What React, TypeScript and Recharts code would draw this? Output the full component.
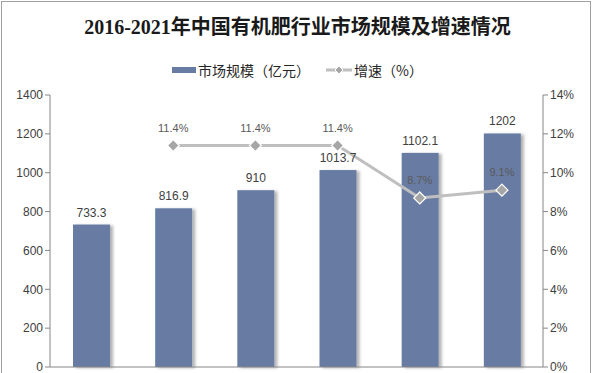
import { ComposedChart, Bar, Line, XAxis, YAxis, LabelList } from 'recharts';

const years = ['2016年', '2017年', '2018年', '2019年', '2020年', '2021年'];
const marketSize = [733.3, 816.9, 910, 1013.7, 1102.1, 1202];
const growth = [null, 11.4, 11.4, 11.4, 8.7, 9.1];
const leftTicks = [0, 200, 400, 600, 800, 1000, 1200, 1400];
const rightTicks = [0, 2, 4, 6, 8, 10, 12, 14];

const data = years.map((y, i) => ({ year: y, size: marketSize[i], rate: growth[i] }));

const BAR = '#687ca3';
const LINE = '#bfbfbf';
const AXIS = '#868686';
const FONT = '"Liberation Sans", Arial, "Noto Sans CJK SC", sans-serif';

const Diamond = (props: any) => {
  const { cx, cy, value } = props;
  if (value == null || cx == null || cy == null) return null;
  const r = 6;
  return (
    <polygon
      points={`${cx},${cy - r} ${cx + r},${cy} ${cx},${cy + r} ${cx - r},${cy}`}
      fill="#a6a6a6"
      stroke="#ffffff"
      strokeWidth={1.2}
    />
  );
};

const ShadowBar = (props: any) => {
  const { x, y, width, height } = props;
  return <rect x={x} y={y} width={width} height={height} fill={BAR} filter="url(#barShadow)" />;
};

export default function App() {
  return (
    <div style={{ position: 'absolute', left: 0, top: 0, width: 595, height: 373, background: '#fff', fontFamily: FONT, overflow: 'hidden' }}>
      <div
        style={{
          position: 'absolute', left: 1, top: 1, width: 590, height: 380,
          border: '1px solid #a0a0a0', boxSizing: 'border-box',
        }}
      />
      <div
        style={{
          position: 'absolute', left: 0, top: 14, width: 595, textAlign: 'center',
          fontFamily: '"Liberation Serif", "Noto Sans CJK SC", serif', fontWeight: 'bold',
          fontSize: 20, color: '#1a1a1a', lineHeight: '26px',
        }}
      >
        2016-2021年中国有机肥行业市场规模及增速情况
      </div>
      <div
        style={{
          position: 'absolute', left: 0, top: 60, width: 595, display: 'flex',
          justifyContent: 'center', alignItems: 'center', fontSize: 14, color: '#262626',
          fontFamily: '"Noto Sans CJK SC", sans-serif', lineHeight: '20px',
        }}
      >
        <span style={{ display: 'inline-block', width: 24, height: 6, background: BAR, marginRight: 2 }} />
        <span>市场规模（亿元）</span>
        <svg width={26} height={12} style={{ marginLeft: 16, marginRight: 2 }}>
          <line x1={0} y1={6} x2={26} y2={6} stroke={LINE} strokeWidth={3} />
          <polygon points="13,2 17,6 13,10 9,6" fill="#a6a6a6" stroke="#fff" strokeWidth={1} />
        </svg>
        <span>增速（%）</span>
      </div>
      <ComposedChart
        width={595}
        height={373}
        data={data}
        margin={{ top: 95, right: 7, bottom: 0, left: 0 }}
        style={{ position: 'absolute', left: 0, top: 0 }}
      >
        <defs>
          <filter id="barShadow" x="-20%" y="-5%" width="150%" height="110%">
            <feDropShadow dx={3} dy={1} stdDeviation={1.5} floodColor="#000" floodOpacity={0.3} />
          </filter>
        </defs>
        <XAxis dataKey="year" height={6} stroke={AXIS} tickLine={false} tick={false} />
        <YAxis
          yAxisId="left"
          width={50}
          domain={[0, 1400]}
          ticks={leftTicks}
          interval={0}
          stroke={AXIS}
          tickSize={5}
          tick={{ fontSize: 12, fill: '#404040', fontFamily: FONT }}
        />
        <YAxis
          yAxisId="right"
          orientation="right"
          width={45}
          domain={[0, 14]}
          ticks={rightTicks}
          interval={0}
          tickFormatter={(v) => `${v}%`}
          stroke={AXIS}
          tickSize={5}
          tick={{ fontSize: 12, fill: '#404040', fontFamily: FONT }}
        />
        <Bar yAxisId="left" dataKey="size" barSize={37} fill={BAR} shape={ShadowBar} isAnimationActive={false}>
          <LabelList dataKey="size" position="top" offset={8} fontSize={12} fill="#404040" fontFamily={FONT} />
        </Bar>
        <Line
          yAxisId="right"
          dataKey="rate"
          stroke={LINE}
          strokeWidth={3}
          dot={<Diamond />}
          activeDot={false}
          connectNulls={false}
          isAnimationActive={false}
        >
          <LabelList
            dataKey="rate"
            position="top"
            offset={14}
            fontSize={11}
            fill="#595959"
            fontFamily={FONT}
            formatter={(v: any) => (v == null ? '' : `${v}%`)}
          />
        </Line>
      </ComposedChart>
    </div>
  );
}
